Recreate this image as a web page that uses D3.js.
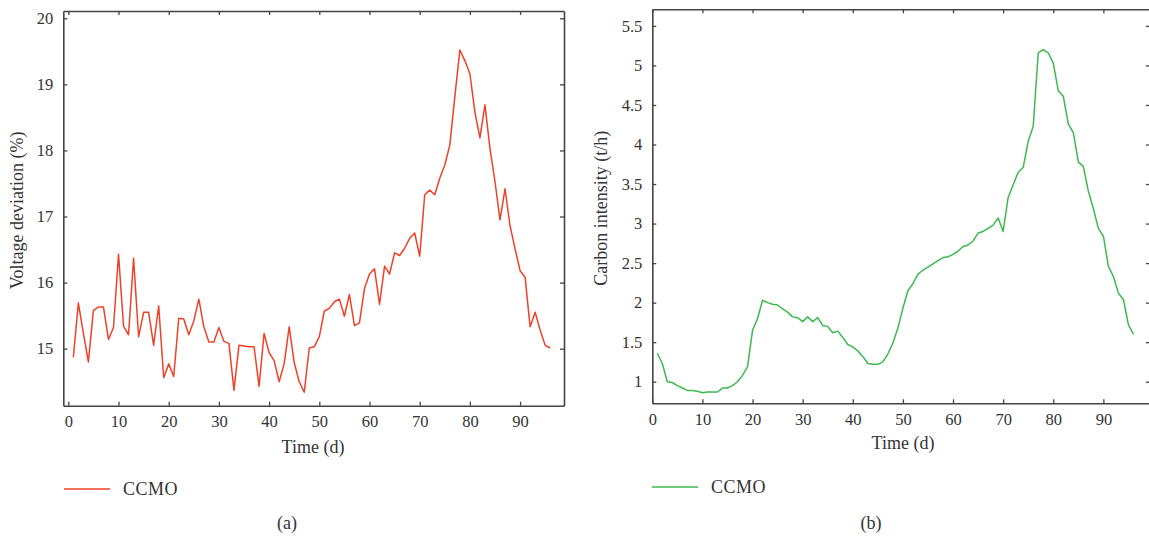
<!DOCTYPE html>
<html><head><meta charset="utf-8">
<script src="https://cdn.jsdelivr.net/npm/d3@7"></script>
<style>
body{margin:0;background:#fff;}
text{font-family:"Liberation Serif","Times New Roman",serif;fill:#333;}
</style></head><body>
<svg id="c" width="1149" height="538"></svg>
<script>
const days = d3.range(1, 97);
const voltageDeviation = [14.87,15.69,15.23,14.80,15.58,15.63,15.63,15.14,15.32,16.43,
15.34,15.21,16.37,15.18,15.55,15.55,15.05,15.65,14.56,14.77,
14.58,15.46,15.45,15.21,15.42,15.75,15.33,15.10,15.10,15.32,
15.11,15.08,14.37,15.05,15.04,15.03,15.03,14.43,15.23,14.94,
14.82,14.50,14.77,15.33,14.79,14.50,14.34,15.01,15.03,15.18,
15.57,15.61,15.71,15.75,15.49,15.82,15.35,15.39,15.91,16.13,
16.21,15.67,16.25,16.13,16.45,16.41,16.52,16.67,16.75,16.40,
17.33,17.40,17.33,17.58,17.78,18.08,18.81,19.52,19.36,19.16,
18.58,18.19,18.69,18.03,17.53,16.95,17.42,16.86,16.51,16.18,
16.08,15.33,15.55,15.28,15.05,15.01];
const carbonIntensity = [1.36,1.23,1.00,0.99,0.95,0.92,0.89,0.89,0.88,0.86,
0.87,0.87,0.87,0.92,0.92,0.95,1.00,1.08,1.19,1.65,
1.80,2.03,2.00,1.98,1.97,1.92,1.88,1.82,1.81,1.76,
1.82,1.76,1.81,1.71,1.70,1.62,1.64,1.56,1.47,1.44,
1.39,1.32,1.23,1.22,1.22,1.25,1.35,1.49,1.68,1.93,
2.15,2.24,2.36,2.41,2.45,2.49,2.53,2.57,2.58,2.61,
2.65,2.71,2.73,2.78,2.88,2.90,2.94,2.98,3.07,2.90,
3.33,3.49,3.65,3.71,4.04,4.23,5.16,5.20,5.16,5.03,
4.68,4.61,4.26,4.15,3.78,3.72,3.41,3.19,2.94,2.84,
2.46,2.33,2.12,2.04,1.72,1.60];
const xTicks = [0,10,20,30,40,50,60,70,80,90];
const yTicksA = [15,16,17,18,19,20];
const yTicksB = [1,1.5,2,2.5,3,3.5,4,4.5,5,5.5];

const svg = d3.select("#c");

function panel(cfg){
  const g = svg.append("g");
  const x = d3.scaleLinear().domain(cfg.xDomain).range([cfg.left, cfg.right]);
  const y = d3.scaleLinear().domain(cfg.yDomain).range([cfg.bottom, cfg.top]);
  const axisColor = "#444";
  const style = sel => {
    sel.select(".domain").attr("stroke", axisColor).attr("stroke-width", 1.6);
    sel.selectAll(".tick line").attr("stroke", axisColor).attr("stroke-width", 1.3);
    sel.selectAll(".tick text").attr("fill", "#333").style("font-size", "16.5px")
      .style("font-family", '"Liberation Serif","Times New Roman",serif');
  };
  g.append("g").attr("transform", `translate(0,${cfg.bottom})`)
    .call(d3.axisBottom(x).tickValues(xTicks).tickSizeInner(-4).tickSizeOuter(0).tickPadding(10))
    .call(style);
  g.append("g").attr("transform", `translate(0,${cfg.top})`)
    .call(d3.axisTop(x).tickValues(xTicks).tickSizeInner(-4).tickSizeOuter(0).tickFormat(""))
    .call(style);
  g.append("g").attr("transform", `translate(${cfg.left},0)`)
    .call(d3.axisLeft(y).tickValues(cfg.yTicks).tickSizeInner(-4).tickSizeOuter(0).tickPadding(10).tickFormat(d3.format("~g")))
    .call(style);
  g.append("g").attr("transform", `translate(${cfg.right},0)`)
    .call(d3.axisRight(y).tickValues(cfg.yTicks).tickSizeInner(-4).tickSizeOuter(0).tickFormat(""))
    .call(style);

  const line = d3.line().x((d,i) => x(days[i])).y(d => y(d));
  g.append("path").datum(cfg.values).attr("d", line)
    .attr("fill", "none").attr("stroke", cfg.color).attr("stroke-width", 1.5)
    .attr("stroke-linejoin", "round");

  g.append("text").attr("transform", `translate(${cfg.yTitleX},${(cfg.top+cfg.bottom)/2 + 2}) rotate(-90)`)
    .attr("text-anchor", "middle").style("font-size", "18px").text(cfg.yTitle);
  g.append("text").attr("x", cfg.xTitleX).attr("y", cfg.xTitleY)
    .attr("text-anchor", "middle").style("font-size", "18px").text("Time (d)");

  g.append("line").attr("x1", cfg.legX).attr("x2", cfg.legX + 46)
    .attr("y1", cfg.legY).attr("y2", cfg.legY)
    .attr("stroke", cfg.color).attr("stroke-width", 1.5);
  g.append("text").attr("x", cfg.legX + 59).attr("y", cfg.legY + 6)
    .style("font-size", "18px").style("letter-spacing", "0.5px").text("CCMO");
  g.append("text").attr("x", cfg.capX).attr("y", 529)
    .attr("text-anchor", "middle").style("font-size", "18px").text(cfg.caption);
}

panel({xDomain:[-1, 98.75], yDomain:[14.137, 20.11], left:63.3, right:564, top:11, bottom:405.7,
  yTicks:yTicksA, values:voltageDeviation, color:"#ef4128", yTitle:"Voltage deviation (%)",
  yTitleX:23, xTitleX:313, xTitleY:453, legX:64, legY:489, capX:287, caption:"(a)"});
panel({xDomain:[0, 99.3], yDomain:[0.727, 5.71], left:652.3, right:1150, top:9.3, bottom:403.3,
  yTicks:yTicksB, values:carbonIntensity, color:"#3dba4e", yTitle:"Carbon intensity (t/h)",
  yTitleX:607, xTitleX:903, xTitleY:449, legX:652, legY:487, capX:871, caption:"(b)"});
</script>
</body></html>
